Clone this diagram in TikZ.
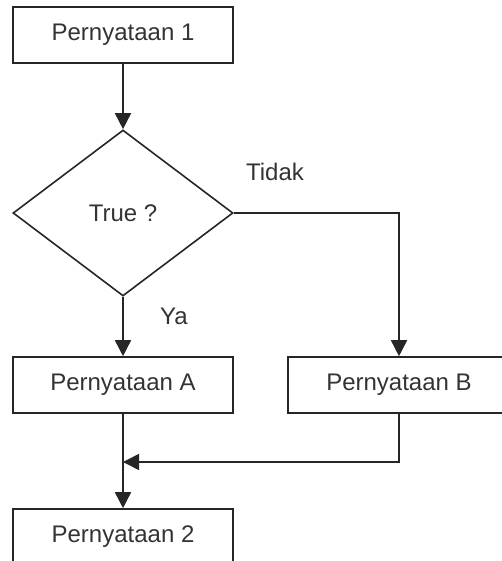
\documentclass[tikz,border=0pt]{standalone}
\usepackage{fontspec}
\setmainfont{Liberation Sans}
\usetikzlibrary{shapes.geometric,arrows.meta}

\begin{document}
\begin{tikzpicture}[x=1pt, y=1pt, every node/.style={font=\fontsize{24}{28}\selectfont, text=black!80}]
            % Define styles
            \tikzstyle{stmt} = [rectangle, minimum width=220pt, minimum height=56pt, text centered, draw=black!85, line width=1.6pt]
            \tikzstyle{cond} = [diamond, minimum width=220pt, minimum height=166pt, inner sep=0pt, text centered, draw=black!85, line width=1.6pt]
            \tikzstyle{arrow} = [line width=1.6pt, draw=black!85, ->, >={Triangle[length=16pt, width=16pt]}]

            % Page frame
            \useasboundingbox (0,0) rectangle (501,-561);

            % Main column
            \node (stmt1) [stmt] at (123,-35) {Pernyataan 1};
            \node (check) [cond] at (123,-213) {True ?};
            \node (stmtA) [stmt] at (123,-385) {Pernyataan A};
            \node (stmt2) [stmt] at (123,-537) {Pernyataan 2};

            % Right branch
            \node (stmtB) [stmt, minimum width=222pt] at (399,-385) {Pernyataan B};

            % Branch labels
            \node (yes) at (174,-316) {Ya};
            \node (no) at (275,-172) {Tidak};

            % Join point
            \coordinate (join) at (123,-462);

            % Arrows
            \draw [arrow] (stmt1) -- (check);
            \draw [arrow] (check) -- (stmtA);
            \draw [arrow] (check.east) -| (stmtB.north);
            \draw [arrow] (stmtA) -- (stmt2);
            \draw [arrow] (stmtB.south) |- (join);
        \end{tikzpicture}
\end{document}
